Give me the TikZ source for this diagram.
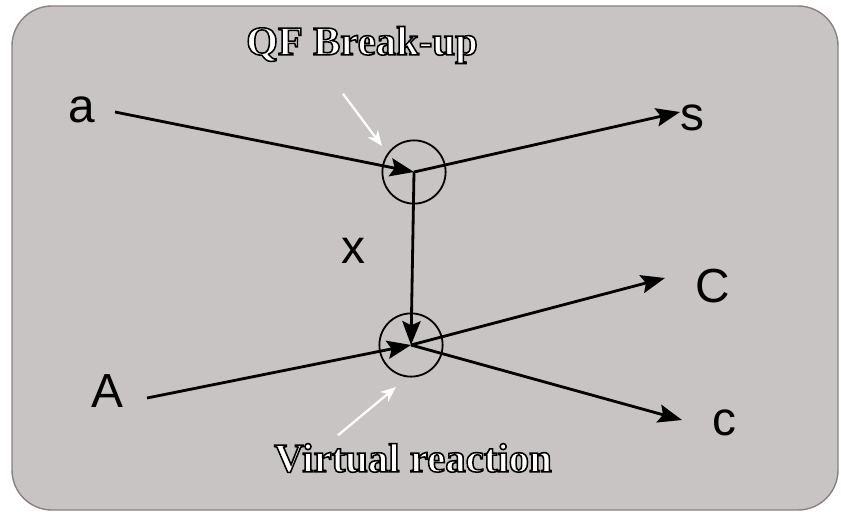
\documentclass[tikz,border=0pt]{standalone}
\usepackage{fontspec}
\setmainfont{Liberation Serif}
\newfontfamily\handfont{Liberation Sans}
\usetikzlibrary{arrows.meta}
\definecolor{panel}{RGB}{201,196,196}
\definecolor{panelline}{RGB}{140,128,128}
% white letters with a thin black outline
\newcommand{\outlined}[1]{\color{white}\special{pdf:code 2 Tr 1.1 w 0 G}#1\special{pdf:code 0 Tr}}
\tikzstyle{particle} = [
    font=\handfont\fontsize{34}{34}\selectfont,
    inner sep=0pt
]
\tikzstyle{vertex} = [
    circle,
    minimum size=1.58cm,
    draw=black,
    line width=1.3pt
]
\tikzstyle{caption} = [
    font=\bfseries\fontsize{29}{29}\selectfont,
    inner sep=0pt
]
\tikzstyle{arrow} = [line width=2pt,-{Stealth[length=17pt,width=13pt,inset=3pt]}]
\tikzstyle{pointer} = [white,line width=1.6pt,-{Stealth[length=11pt,width=9pt]}]

\begin{document}
\begin{tikzpicture}[x=0.025cm,y=-0.025cm]

\useasboundingbox (0,0) rectangle (841,512);
\draw [fill=panel, draw=panelline, line width=1pt, rounded corners=1cm]
(12,6) rectangle (838,510);

\coordinate (v1) at (414,172);
\coordinate (v2) at (411,345);

\node (up) [vertex] at (v1) {};
\node (down) [vertex] at (v2) {};

\node (a) [particle] at (82,110) {a};
\node (s) [particle] at (692,118) {s};
\node (x) [particle] at (353,251) {x};
\node (A) [particle] at (107,391) {A};
\node (C) [particle] at (713,286) {C};
\node (c) [particle] at (724,423) {c};

\coordinate (ain) at (115,112);
\coordinate (sout) at (680,112);
\coordinate (Ain) at (147,398);
\coordinate (Cout) at (665,278);
\coordinate (cout) at (682,420);

\draw [arrow] (ain) -- (v1);
\draw [arrow] (v1) -- (sout);
\draw [arrow] (v1) -- (v2);
\draw [arrow] (Ain) -- (v2);
\draw [arrow] (v2) -- (Cout);
\draw [arrow] (v2) -- (cout);

\node (qf) [caption] at (362,45) {\outlined{QF Break-up}};
\node (vr) [caption] at (413,458) {\outlined{Virtual reaction}};

\coordinate (qftip) at (382,146);
\coordinate (vrtip) at (396,387);
\draw [pointer] (qf.south) ++(-19,30) -- (qftip);
\draw [pointer] (vr.north) ++(-75,-8) -- (vrtip);

\end{tikzpicture}
\end{document}
